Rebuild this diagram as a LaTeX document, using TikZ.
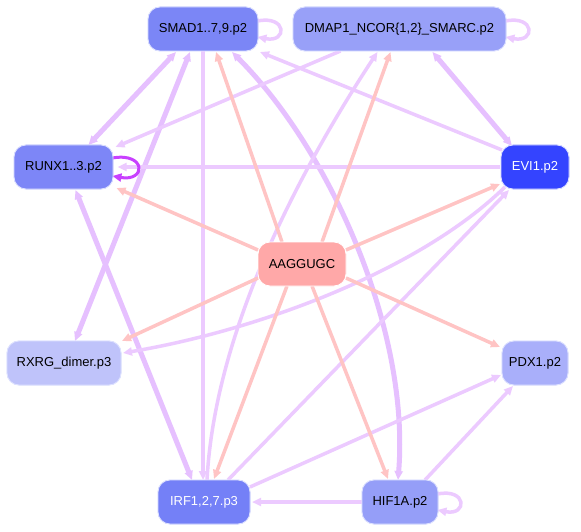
\documentclass[tikz,border=0pt]{standalone}
\usepackage{fontspec}
\setmainfont{Liberation Sans}
\usetikzlibrary{arrows.meta}
\definecolor{pline}{RGB}{236,202,255}
\definecolor{pthick}{RGB}{230,192,255}
\definecolor{rline}{RGB}{255,196,196}
\definecolor{loopdark}{RGB}{200,64,255}
\definecolor{nborder}{RGB}{222,226,255}
\definecolor{cSMAD}{RGB}{123,134,246}
\definecolor{cDMAP}{RGB}{152,160,248}
\definecolor{cRUNX}{RGB}{125,134,247}
\definecolor{cEVI}{RGB}{52,68,255}
\definecolor{cAAG}{RGB}{255,168,168}
\definecolor{cRXRG}{RGB}{191,195,250}
\definecolor{cPDX}{RGB}{169,175,250}
\definecolor{cIRF}{RGB}{116,128,247}
\definecolor{cHIF}{RGB}{149,158,248}
\tikzset{
  gnode/.style={rounded corners=12pt, minimum height=44pt, inner sep=0pt,
    draw=nborder, line width=0.8pt, font=\fontsize{13}{15}\selectfont},
  tip/.style={-{Triangle[length=9pt,width=8pt]}},
  biarr/.style={{Triangle[length=9pt,width=8pt]}-{Triangle[length=9pt,width=8pt]}},
  pe/.style={draw=pline, line width=3.5pt},
  pt/.style={draw=pthick, line width=5pt},
  re/.style={draw=rline, line width=3.5pt}
}
\begin{document}
\begin{tikzpicture}[x=1pt,y=-1pt]
\useasboundingbox (0,0) rectangle (581,532);
\fill[white] (0,0) rectangle (581,532);

\begin{scope}
\node[gnode, fill=cSMAD, minimum width=110pt] (SMAD) at (203,29) {SMAD1..7,9.p2};
\node[gnode, fill=cDMAP, minimum width=213pt] (DMAP) at (399.5,29) {DMAP1\_NCOR\{1,2\}\_SMARC.p2};
\node[gnode, fill=cRUNX, minimum width=99pt] (RUNX) at (63.5,167) {RUNX1..3.p2};
\node[gnode, fill=cEVI, minimum width=68pt, text=white] (EVI) at (535,167) {EVI1.p2};
\node[gnode, fill=cAAG, minimum width=88pt, draw=white] (AAG) at (302,264) {AAGGUGC};
\node[gnode, fill=cRXRG, minimum width=114pt] (RXRG) at (64,363) {RXRG\_dimer.p3};
\node[gnode, fill=cPDX, minimum width=66pt] (PDX) at (535,363) {PDX1.p2};
\node[gnode, fill=cIRF, minimum width=92pt, text=white] (IRF) at (204,502) {IRF1,2,7.p3};
\node[gnode, fill=cHIF, minimum width=76pt] (HIF) at (400,502) {HIF1A.p2};
\end{scope}

% purple edges
\path[pt, biarr] ([shift={(25,-22)}]RUNX.center) -- ([shift={(-27,23)}]SMAD.center);
\path[pt, biarr] ([shift={(11,-22)}]RXRG.center) -- ([shift={(-13,23)}]SMAD.center);
\path[pt, biarr] ([shift={(12,23)}]RUNX.center) -- ([shift={(-12,-22)}]IRF.center);
\path[pe, tip] ([shift={(0,22)}]SMAD.center) -- ([shift={(-1,-22)}]IRF.center);
\path[pt, biarr] ([shift={(29,23)}]SMAD.center) .. controls (330,150) and (410,330) .. ([shift={(-2,-22)}]HIF.center);
\path[pe, tip] ([shift={(-33,-17)}]EVI.center) -- ([shift={(57,23)}]SMAD.center);
\path[pe, tip] ([shift={(-59,22)}]DMAP.center) -- ([shift={(52,-20)}]RUNX.center);
\path[pe, tip] ([shift={(-35,0)}]EVI.center) -- ([shift={(54,0)}]RUNX.center);
\path[pt, biarr] ([shift={(33,23)}]DMAP.center) -- ([shift={(-23,-21)}]EVI.center);
\path[pe, tip] ([shift={(3,-22)}]IRF.center) .. controls (215,330) and (300,170) .. ([shift={(-22,23)}]DMAP.center);
\path[pe, tip] ([shift={(-30,20)}]EVI.center) .. controls (420,270) and (260,330) .. ([shift={(59,-10)}]RXRG.center);
\path[pe, tip] ([shift={(24,-22)}]IRF.center) -- ([shift={(-26,23)}]EVI.center);
\path[pe, tip] ([shift={(46,-15)}]IRF.center) -- ([shift={(-34,12)}]PDX.center);
\path[pe, tip] ([shift={(-38,0)}]HIF.center) -- ([shift={(48,0)}]IRF.center);
\path[pe, tip] ([shift={(25,-22)}]HIF.center) -- ([shift={(-22,23)}]PDX.center);

% red edges
\path[re, tip] ([shift={(-20,-22)}]AAG.center) -- ([shift={(13,23)}]SMAD.center);
\path[re, tip] ([shift={(20,-22)}]AAG.center) -- ([shift={(-9,23)}]DMAP.center);
\path[re, tip] ([shift={(-44,-14)}]AAG.center) -- ([shift={(53,21)}]RUNX.center);
\path[re, tip] ([shift={(44,-14)}]AAG.center) -- ([shift={(-35,17)}]EVI.center);
\path[re, tip] ([shift={(-44,14)}]AAG.center) -- ([shift={(58,-22)}]RXRG.center);
\path[re, tip] ([shift={(44,14)}]AAG.center) -- ([shift={(-35,-16)}]PDX.center);
\path[re, tip] ([shift={(-15,22)}]AAG.center) -- ([shift={(10,-23)}]IRF.center);
\path[re, tip] ([shift={(10,22)}]AAG.center) -- ([shift={(-12,-23)}]HIF.center);

% self loops
\path[pe, tip] ([shift={(-1,-8)}]SMAD.east) .. controls +(30,-6) and +(30,6) .. ([shift={(-1,8)}]SMAD.east);
\path[pe, tip] ([shift={(-1,-8)}]DMAP.east) .. controls +(30,-6) and +(30,6) .. ([shift={(-1,8)}]DMAP.east);
\path[pe, tip] ([shift={(-1,-8)}]HIF.east) .. controls +(30,-6) and +(30,6) .. ([shift={(-1,8)}]HIF.east);
\path[draw=loopdark, line width=3pt, tip] ([shift={(-1,-9)}]RUNX.east) .. controls +(34,-6) and +(34,6) .. ([shift={(-1,9)}]RUNX.east);

% redraw nodes on top
\node[gnode, fill=cSMAD, minimum width=110pt] at (SMAD.center) {SMAD1..7,9.p2};
\node[gnode, fill=cDMAP, minimum width=213pt] at (DMAP.center) {DMAP1\_NCOR\{1,2\}\_SMARC.p2};
\node[gnode, fill=cRUNX, minimum width=99pt] at (RUNX.center) {RUNX1..3.p2};
\node[gnode, fill=cEVI, minimum width=68pt, text=white] at (EVI.center) {EVI1.p2};
\node[gnode, fill=cAAG, minimum width=88pt, draw=white] at (AAG.center) {AAGGUGC};
\node[gnode, fill=cRXRG, minimum width=114pt] at (RXRG.center) {RXRG\_dimer.p3};
\node[gnode, fill=cPDX, minimum width=66pt] at (PDX.center) {PDX1.p2};
\node[gnode, fill=cIRF, minimum width=92pt, text=white] at (IRF.center) {IRF1,2,7.p3};
\node[gnode, fill=cHIF, minimum width=76pt] at (HIF.center) {HIF1A.p2};
\end{tikzpicture}
\end{document}
